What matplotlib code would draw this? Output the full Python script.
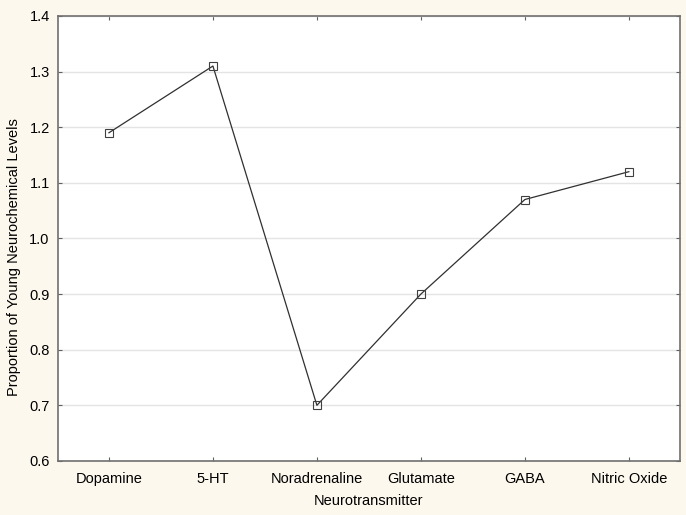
import matplotlib.pyplot as plt

plt.rcParams['font.family'] = ['Liberation Sans', 'DejaVu Sans']

neurotransmitters = ['Dopamine', '5-HT', 'Noradrenaline', 'Glutamate', 'GABA', 'Nitric Oxide']
proportions = [1.19, 1.31, 0.70, 0.90, 1.07, 1.12]
yticks = [0.6, 0.7, 0.8, 0.9, 1.0, 1.1, 1.2, 1.3, 1.4]

fig = plt.figure(figsize=(6.86, 5.15), dpi=100, facecolor='#fdf8ee')
ax = fig.add_axes([0.0845, 0.105, 0.9065, 0.864])
ax.set_facecolor('white')

x = range(len(neurotransmitters))
ax.plot(x, proportions, color='#303030', linewidth=0.9,
        marker='s', markersize=6, markerfacecolor='none',
        markeredgecolor='#404040', markeredgewidth=0.8)

ax.set_xlim(-0.49, 5.49)
ax.set_ylim(0.6, 1.4)
ax.set_xticks(list(x))
ax.set_xticklabels(neurotransmitters)
ax.set_yticks(yticks)
ax.set_yticklabels([f'{v:.1f}' for v in yticks])
ax.yaxis.grid(True, color='#e4e4e4', linewidth=1)
ax.set_axisbelow(True)

ax.tick_params(direction='in', length=3, width=0.8, color='#606060',
               top=True, right=True, labelsize=10.5)
ax.tick_params(axis='x', pad=8)
ax.tick_params(axis='y', pad=6)
for s in ax.spines.values():
    s.set_color('#707070')
    s.set_linewidth(1.2)

ax.set_xlabel('Neurotransmitter', fontsize=10.5, labelpad=6)
ax.set_ylabel('Proportion of Young Neurochemical Levels', fontsize=10.5,
              labelpad=6, y=0.458)

fig.savefig('out.png', dpi=100, facecolor=fig.get_facecolor())
